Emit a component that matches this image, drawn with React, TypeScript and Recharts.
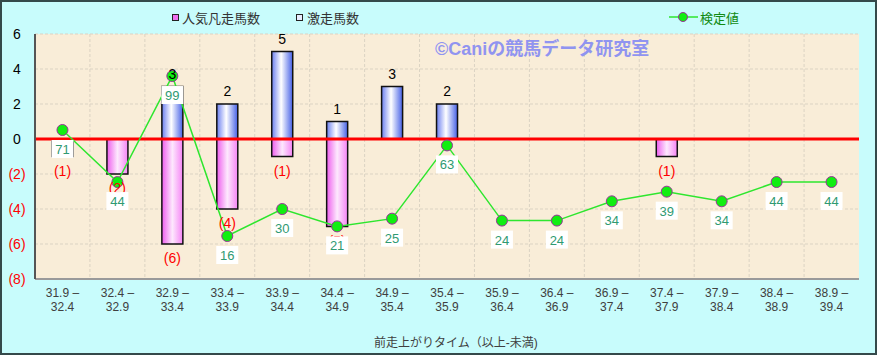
import React from 'react';
import {
  ComposedChart,
  Bar,
  Line,
  XAxis,
  YAxis,
  CartesianGrid,
  ReferenceLine,
  LabelList,
} from 'recharts';

const categories = [
  '31.9-32.4', '32.4-32.9', '32.9-33.4', '33.4-33.9', '33.9-34.4',
  '34.4-34.9', '34.9-35.4', '35.4-35.9', '35.9-36.4', '36.4-36.9',
  '36.9-37.4', '37.4-37.9', '37.9-38.4', '38.4-38.9', '38.9-39.4',
];
const ninkiBonso = [-1, -2, -6, -4, -1, -5, 0, 0, 0, 0, 0, -1, 0, 0, 0];
const gekiso = [0, 0, 3, 2, 5, 1, 3, 2, 0, 0, 0, 0, 0, 0, 0];
const kentei = [71, 44, 99, 16, 30, 21, 25, 63, 24, 24, 34, 39, 34, 44, 44];
const yTicks = [-8, -6, -4, -2, 0, 2, 4, 6];
const kenteiDomain = [-6.3, 120.8];

const seriesNames = { bonso: '人気凡走馬数', gekiso: '激走馬数', kentei: '検定値' };
const xTitle = '前走上がりタイム（以上-未満)';
const watermark = '©Caniの競馬データ研究室';

const data = categories.map((c, i) => ({
  cat: c,
  bonso: ninkiBonso[i],
  gekiso: gekiso[i],
  kentei: kentei[i],
}));

const FONT = '"Liberation Sans", "Noto Sans CJK JP", sans-serif';

const XTick = (props: any) => {
  const { x, y, payload } = props;
  const [a, b] = String(payload.value).split('-');
  return (
    <text x={x} y={y} textAnchor="middle" fill="#404040" fontSize={12}>
      <tspan x={x} dy={18}>{a} –</tspan>
      <tspan x={x} dy={14}>{b}</tspan>
    </text>
  );
};

const YTick = (props: any) => {
  const { x, y, payload } = props;
  const v = payload.value;
  const neg = v < 0;
  return (
    <text x={x - 18} y={y} dy={5} textAnchor="middle" fontSize={14} fill={neg ? '#ff0000' : '#000000'}>
      {neg ? `(${Math.abs(v)})` : v}
    </text>
  );
};

const BlueLabel = (p: any) => {
  const { x, y, width, height, value } = p;
  if (!value) return null;
  const top = Math.min(y, y + height);
  return (
    <text x={x + width / 2} y={top - 8} textAnchor="middle" fontSize={14} fill="#000">
      {value}
    </text>
  );
};

const PinkLabel = (p: any) => {
  const { x, y, width, height, value } = p;
  if (!value) return null;
  const bottom = Math.max(y, y + height);
  return (
    <text x={x + width / 2} y={bottom + 19} textAnchor="middle" fontSize={14} fill="#ff0000">
      {`(${Math.abs(value)})`}
    </text>
  );
};

const KenteiLabel = (p: any) => {
  const { x, y, value } = p;
  return (
    <g>
      <rect x={x - 11} y={y + 10} width={22} height={18} fill="#ffffff" />
      <text x={x} y={y + 24} textAnchor="middle" fontSize={13} fill="#2f9a72">
        {value}
      </text>
    </g>
  );
};

const gridVerticals = ({ offset }: any) => {
  const n = categories.length;
  return Array.from({ length: n - 1 }, (_, i) => offset.left + ((i + 1) * offset.width) / n);
};

export default function App() {
  return (
    <div
      style={{
        position: 'relative',
        width: 877,
        height: 355,
        background: '#c8fcfc',
        boxShadow: 'inset 0 0 0 2px #34494a',
        fontFamily: FONT,
        overflow: 'hidden',
      }}
    >
      <style>{'body{margin:0}'}</style>
      <svg width={0} height={0} style={{ position: 'absolute' }}>
        <defs>
          <linearGradient id="gBlue" x1="0" y1="0" x2="1" y2="0">
            <stop offset="0%" stopColor="#6a7ef0" />
            <stop offset="45%" stopColor="#ffffff" />
            <stop offset="100%" stopColor="#4560e6" />
          </linearGradient>
          <linearGradient id="gPink" x1="0" y1="0" x2="1" y2="0">
            <stop offset="0%" stopColor="#ee5cee" />
            <stop offset="50%" stopColor="#fde8fd" />
            <stop offset="100%" stopColor="#f584f5" />
          </linearGradient>
        </defs>
      </svg>
      <div style={{ position: 'absolute', left: 0, top: 0 }}>
        <ComposedChart
          width={877}
          height={355}
          data={data}
          stackOffset="sign"
          margin={{ top: 34, right: 18, bottom: 0, left: 0 }}
          style={{ fontFamily: FONT }}
        >
          <CartesianGrid
            fill="#f9edd8"
            stroke="#dbd3c3"
            strokeDasharray="3 2"
            verticalCoordinatesGenerator={gridVerticals}
          />
          <XAxis
            dataKey="cat"
            interval={0}
            height={76}
            tickLine={false}
            tickSize={0}
            tickMargin={0}
            axisLine={{ stroke: '#9a9a9a', strokeWidth: 2 }}
            tick={<XTick />}
            label={{ value: xTitle, position: 'insideBottom', offset: 8, dx: 9, fill: '#404040', fontSize: 12 }}
          />
          <XAxis
            xAxisId="top"
            dataKey="cat"
            orientation="top"
            height={0}
            tick={false}
            tickLine={false}
            axisLine={{ stroke: '#6a6a6a', strokeWidth: 2 }}
          />
          <YAxis
            domain={[-8, 6]}
            ticks={yTicks}
            width={35}
            tickLine={false}
            tickSize={0}
            tickMargin={0}
            axisLine={{ stroke: '#555555', strokeWidth: 2 }}
            tick={<YTick />}
            allowDataOverflow
          />
          <YAxis
            yAxisId="right"
            orientation="right"
            domain={kenteiDomain}
            width={0}
            tick={false}
            tickLine={false}
            axisLine={{ stroke: '#9a9a9a', strokeWidth: 2 }}
            allowDataOverflow
          />
          <Bar
            dataKey="bonso"
            name={seriesNames.bonso}
            stackId="s"
            barSize={21}
            fill="url(#gPink)"
            stroke="#111"
            strokeWidth={1.5}
            isAnimationActive={false}
          >
            <LabelList dataKey="bonso" content={<PinkLabel />} />
          </Bar>
          <Bar
            dataKey="gekiso"
            name={seriesNames.gekiso}
            stackId="s"
            barSize={21}
            fill="url(#gBlue)"
            stroke="#111"
            strokeWidth={1.5}
            isAnimationActive={false}
          >
            <LabelList dataKey="gekiso" content={<BlueLabel />} />
          </Bar>
          <ReferenceLine y={0} stroke="#ff0000" strokeWidth={3} />
          <Line
            yAxisId="right"
            dataKey="kentei"
            name={seriesNames.kentei}
            type="linear"
            stroke="#2ee62e"
            strokeWidth={1.5}
            dot={{ r: 5.5, fill: '#11ee11', stroke: '#993399', strokeWidth: 1 }}
            isAnimationActive={false}
          >
            <LabelList dataKey="kentei" content={<KenteiLabel />} />
          </Line>
        </ComposedChart>
      </div>

      {/* Legend */}
      <div style={{ position: 'absolute', left: 172, top: 8, height: 18, display: 'flex', alignItems: 'center', fontSize: 13, color: '#333333' }}>
        <span style={{ display: 'inline-block', width: 5, height: 5, border: '1.5px solid #222', background: '#f070f0', marginRight: 3 }} />
        <span>{seriesNames.bonso}</span>
      </div>
      <div style={{ position: 'absolute', left: 296, top: 8, height: 18, display: 'flex', alignItems: 'center', fontSize: 13, color: '#333333' }}>
        <span style={{ display: 'inline-block', width: 5, height: 5, border: '1.5px solid #222', background: '#e8ecff', marginRight: 4 }} />
        <span>{seriesNames.gekiso}</span>
      </div>
      <div style={{ position: 'absolute', left: 669, top: 8, height: 18, display: 'flex', alignItems: 'center', fontSize: 13, color: '#118a11' }}>
        <svg width={29} height={12} style={{ marginRight: 2 }}>
          <line x1={0} y1={6} x2={29} y2={6} stroke="#2ee62e" strokeWidth={1.5} />
          <circle cx={14} cy={6} r={4.5} fill="#11ee11" stroke="#993399" strokeWidth={1} />
        </svg>
        <span>{seriesNames.kentei}</span>
      </div>

      {/* Watermark */}
      <div style={{ position: 'absolute', left: 435, top: 38, fontSize: 18, lineHeight: '22px', fontWeight: 'bold', color: '#9094f0', whiteSpace: 'nowrap' }}>
        {watermark}
      </div>
    </div>
  );
}
